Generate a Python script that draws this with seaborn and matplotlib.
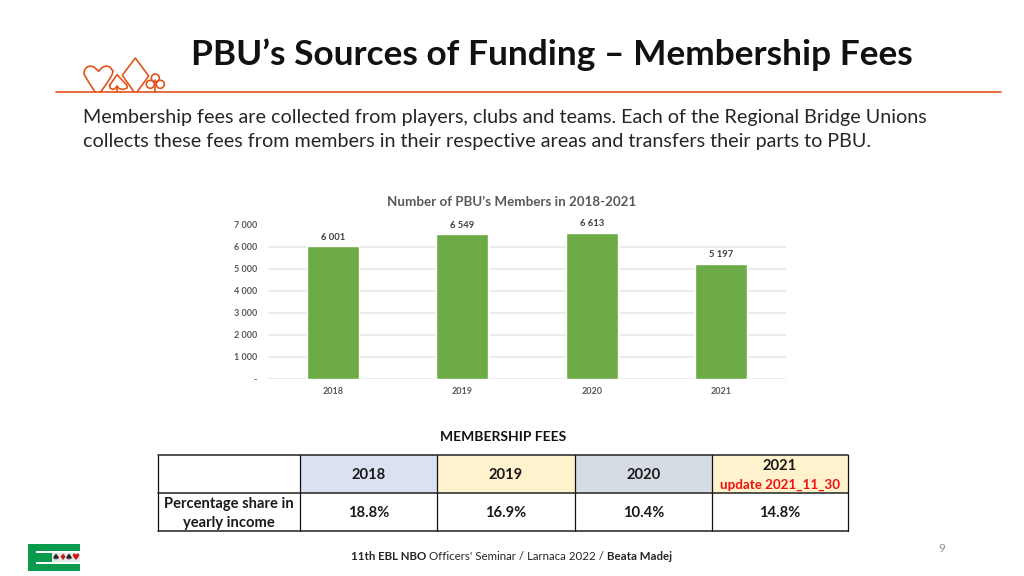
import matplotlib
matplotlib.use("Agg")
import matplotlib.pyplot as plt
from matplotlib.patches import Rectangle, Circle
import numpy as np
import pandas as pd
import seaborn as sns

years = ["2018", "2019", "2020", "2021"]
members = [6001, 6549, 6613, 5197]
member_labels = ["6 001", "6 549", "6 613", "5 197"]
y_ticks = [0, 1000, 2000, 3000, 4000, 5000, 6000, 7000]
y_tick_labels = ["-", "1 000", "2 000", "3 000", "4 000", "5 000", "6 000", "7 000"]
shares = ["18.8%", "16.9%", "10.4%", "14.8%"]
header_colors = ["#d9e1f2", "#fff2cc", "#d6dce4", "#fff2cc"]

W, H = 1024, 576
ORANGE = "#e2541b"
DARK = "#262626"
FONT = ["Lato", "DejaVu Sans"]

sns.set_theme(style="white")
plt.rcParams["font.family"] = FONT

fig = plt.figure(figsize=(W / 100, H / 100), dpi=100, facecolor="white")

# slide layer in pixel coordinates, y going down
bg = fig.add_axes([0, 0, 1, 1])
bg.set_xlim(0, W)
bg.set_ylim(H, 0)
bg.axis("off")

bg.text(552, 55, "PBU’s Sources of Funding – Membership Fees", fontsize=25.4,
        fontweight="bold", color="#111111", ha="center", va="center")
bg.text(83, 117, "Membership fees are collected from players, clubs and teams. Each of the Regional Bridge Unions",
        fontsize=14.2, color=DARK, va="center")
bg.text(83, 142, "collects these fees from members in their respective areas and transfers their parts to PBU.",
        fontsize=14.2, color=DARK, va="center")
bg.text(512, 202, "Number of PBU’s Members in 2018-2021", fontsize=9.6, fontweight="bold",
        color="#595959", ha="center", va="center")


# suit outlines
def outline(xs, ys):
    bg.plot(xs, ys, color=ORANGE, lw=1.2, solid_capstyle="round", solid_joinstyle="round")


outline([56, 1001], [92, 92])
# heart
outline([95, 88, 84, 84.5, 87, 90, 94, 98.7, 102, 106, 110, 113, 112, 107, 100.7],
        [92, 81, 74, 70, 67, 66, 67, 71.3, 67.5, 66, 67, 71, 75, 83, 92])
# small spade
outline([109.7, 117, 127, 127, 123, 119, 117, 115, 113, 110, 109.7],
        [85.3, 74.7, 85.3, 88, 89.5, 88.5, 86.3, 88.5, 89.5, 88, 85.3])
outline([117, 117], [86.3, 92])
# big diamond
outline([134, 122.3, 135.3, 148.7, 137], [92, 75.3, 58, 76, 92])
# club
for cx, cy in [(155.3, 78), (150.3, 84.3), (160.3, 84.3)]:
    bg.add_patch(Circle((cx, cy), 4, fill=False, ec=ORANGE, lw=1.2))
outline([155.3, 155.3], [80, 92])

# table under the chart
bg.text(503, 437, "MEMBERSHIP FEES", fontsize=10.0, fontweight="bold", color="#111111",
        ha="center", va="center")
col_edges = [158, 300, 437, 575, 712, 848]
row_edges = [455, 493, 531]
for i, c in enumerate(header_colors):
    bg.add_patch(Rectangle((col_edges[i + 1], row_edges[0]), col_edges[i + 2] - col_edges[i + 1],
                           row_edges[1] - row_edges[0], fc=c, ec="none"))
for x in col_edges:
    bg.plot([x, x], [row_edges[0], row_edges[2]], color="#111111", lw=0.9)
for y in row_edges:
    bg.plot([col_edges[0], col_edges[-1]], [y, y], color="#222222", lw=1.1)

for i, yr in enumerate(years):
    cx = (col_edges[i + 1] + col_edges[i + 2]) / 2
    bg.text(cx, 466 if yr == "2021" else 475, yr, fontsize=10.6, fontweight="bold",
            color="#1a1a1a", ha="center", va="center")
    bg.text(cx, 513, shares[i], fontsize=10.6, fontweight="bold", color="#1a1a1a",
            ha="center", va="center")
bg.text(780, 485, "update 2021_11_30", fontsize=9.6, fontweight="bold", color="#f01010",
        ha="center", va="center")
bg.text(229, 504, "Percentage share in", fontsize=10.6, fontweight="bold", color="#1a1a1a",
        ha="center", va="center")
bg.text(229, 523, "yearly income", fontsize=10.6, fontweight="bold", color="#1a1a1a",
        ha="center", va="center")

# footer
bg.add_patch(Rectangle((28, 544), 52, 27, fc="#0a9a4e", ec="none"))
bg.add_patch(Rectangle((36, 551), 44, 2, fc="white", ec="none"))
bg.add_patch(Rectangle((36, 562), 44, 2, fc="white", ec="none"))
bg.add_patch(Rectangle((52, 553), 28, 9, fc="#e4e8e4", ec="none"))
for x, s, col in zip([56, 62.5, 69, 75.5], "♠♦♠♥", ["#222222", "#d01818", "#222222", "#d01818"]):
    bg.text(x, 557.5, s, fontsize=6.5, color=col, ha="center", va="center", family="DejaVu Sans")

foot = bg.annotate("11th EBL NBO ", (351, 557), fontsize=8.3, fontweight="bold", color=DARK, va="center")
foot = bg.annotate("Officers' Seminar / Larnaca 2022 / ", xycoords=foot, xy=(1, 0.5), fontsize=8.3,
                   color=DARK, va="center")
bg.annotate("Beata Madej", xycoords=foot, xy=(1, 0.5), fontsize=8.3, fontweight="bold", color=DARK,
            va="center")
bg.text(942, 549, "9", fontsize=8.5, color="#8c8c8c", ha="center", va="center")

# the bar chart
ax = fig.add_axes([268 / W, 1 - 378.5 / H, 518 / W, 154 / H])
ax.patch.set_alpha(0)
df = pd.DataFrame({"year": years, "members": members})
sns.barplot(data=df, x="year", y="members", color="#6cab45", saturation=1, width=0.4, ax=ax, zorder=3)
ax.set_xlim(-0.5, 3.5)
ax.set_ylim(0, 7000)
ax.set_yticks(y_ticks)
ax.set_yticklabels(y_tick_labels)
ax.set_xlabel("")
ax.set_ylabel("")
ax.grid(axis="y", color="#e9e9e9", lw=1.3, zorder=0)
ax.tick_params(axis="both", length=0, labelsize=6.5, labelcolor="#595959")
ax.tick_params(axis="x", pad=6)
ax.tick_params(axis="y", pad=8)
for lbl in ax.get_xticklabels() + ax.get_yticklabels():
    lbl.set_fontweight("bold")
sns.despine(ax=ax, left=True, bottom=True)
for i, (v, t) in enumerate(zip(members, member_labels)):
    ax.annotate(t, (i, v), xytext=(0, 3.5), textcoords="offset points", ha="center", va="bottom",
                fontsize=6.8, fontweight="bold", color="#404040")

fig.savefig("out.png", dpi=100)
